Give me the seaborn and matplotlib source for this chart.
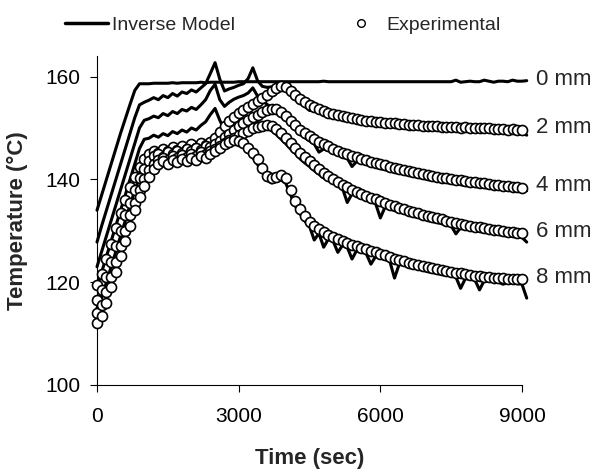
import numpy as np
import pandas as pd
import matplotlib
matplotlib.use("Agg")
import matplotlib.pyplot as plt
import seaborn as sns
from matplotlib.lines import Line2D

# ---------------- data ----------------
t_exp = np.arange(0, 9001, 100)      # experimental sampling times (s)
t_model = np.arange(0, 9101, 100)    # model output times (s)

depth_labels = ["0 mm", "2 mm", "4 mm", "6 mm", "8 mm"]

exp_2mm = [119.5, 121.5, 124.5, 127.5, 130.5, 133.5, 136, 138.5, 140.5, 142.5,
           144, 145, 145.6, 145.2, 146, 145.5, 146.3, 145.8, 146.5, 146,
           146.8, 146.2, 147, 146.6, 147.2, 148, 149.2, 150.3, 151.3, 152.2,
           152.9, 153.5, 154.1, 154.7, 155.3, 155.9, 156.5, 157.1, 157.7, 158.1,
           157.9, 157.2, 156.4, 155.6, 155, 154.5, 154.1, 153.7, 153.3, 153,
           152.8, 152.5, 152.3, 152.1, 151.9, 151.7, 151.5, 151.4, 151.3, 151.2,
           151.1, 151, 150.9, 150.9, 150.8, 150.7, 150.6, 150.5, 150.5, 150.4,
           150.4, 150.3, 150.3, 150.2, 150.2, 150.1, 150.1, 150, 150.1, 150,
           150, 149.9, 149.9, 149.9, 149.8, 149.8, 149.8, 149.7, 149.8, 149.7,
           149.7]
exp_4mm = [116.5, 118.5, 121, 124, 127, 130, 133, 135.5, 138, 140.2,
           142, 143.5, 144.5, 144.9, 144.4, 145.3, 144.9, 145.6, 145.2, 146,
           145.5, 146.2, 145.8, 146.5, 146.3, 146.9, 147.5, 148.2, 148.9, 149.6,
           150.3, 150.9, 151.5, 152.1, 152.6, 153.1, 153.5, 153.7, 153.6, 153.1,
           152.3, 151.4, 150.5, 149.7, 149, 148.4, 147.8, 147.3, 146.8, 146.4,
           146, 145.6, 145.2, 144.9, 144.6, 144.3, 144, 143.7, 143.4, 143.2,
           142.9, 142.7, 142.4, 142.2, 142, 141.8, 141.6, 141.4, 141.2, 141,
           140.8, 140.6, 140.5, 140.3, 140.2, 140, 139.9, 139.8, 139.6, 139.5,
           139.4, 139.3, 139.2, 139.1, 139, 138.9, 138.8, 138.7, 138.6, 138.5,
           138.4]
exp_6mm = [114, 115.5, 118, 121, 124, 127, 130, 133, 135.5, 138,
           140, 141.8, 143, 143.8, 144.2, 143.8, 144.5, 144.2, 144.8, 144.4,
           145, 144.6, 145.3, 145, 145.6, 146, 146.5, 147.1, 147.6, 148.1,
           148.6, 149.1, 149.5, 149.9, 150.2, 150.4, 150.5, 150.3, 149.8, 149,
           148.1, 147.1, 146.1, 145.2, 144.3, 143.5, 142.7, 142, 141.3, 140.7,
           140.1, 139.5, 139, 138.5, 138, 137.6, 137.2, 136.8, 136.4, 136.1,
           135.8, 135.4, 135.1, 134.8, 134.5, 134.2, 133.9, 133.6, 133.4, 133.1,
           132.9, 132.6, 132.4, 132.2, 132, 131.8, 131.6, 131.4, 131.2, 131,
           130.8, 130.7, 130.5, 130.4, 130.2, 130.1, 129.9, 129.8, 129.7, 129.6,
           129.5]
exp_8mm = [112, 113.5, 116, 119, 122, 125, 128, 131, 134, 136.5,
           138.7, 140.5, 142, 143, 143.5, 143, 143.8, 143.3, 144, 143.5,
           144.2, 143.8, 144.5, 144.2, 145, 145.6, 146.2, 146.8, 147.3, 147.6,
           147.5, 147, 146.2, 145.2, 143.9, 142.2, 140.6, 140.2, 140.5, 140.8,
           140.2, 138, 135.8, 134.2, 132.8, 131.8, 131, 130.3, 129.7, 129.2,
           128.8, 128.4, 128, 127.7, 127.3, 127, 126.7, 126.4, 126.1, 125.8,
           125.5, 125.2, 124.9, 124.6, 124.3, 124.1, 123.8, 123.6, 123.4, 123.1,
           122.9, 122.7, 122.5, 122.3, 122.2, 122, 121.8, 121.7, 121.5, 121.4,
           121.3, 121.2, 121.1, 121, 120.9, 120.9, 120.8, 120.7, 120.7, 120.6,
           120.6]

model_0mm = [134, 137, 140, 143, 146, 149, 151.8, 154.6, 157.3, 158.6,
             158.6, 158.6, 158.7, 158.7, 158.7, 158.7, 158.8, 158.7, 158.8, 158.8,
             158.8, 158.8, 158.9, 158.8, 158.9, 158.9, 158.9, 158.9, 158.9, 158.9,
             159, 159, 159, 159, 159, 159, 159, 159, 159, 159,
             159, 159, 159, 159, 159, 159, 159, 159, 159.1, 159,
             159, 159, 159, 159, 159, 159, 159, 159, 159, 159,
             159, 159, 159, 159, 159, 159, 159, 159, 159, 159,
             159, 159, 159, 159, 159, 159, 159.3, 158.9, 159, 159.1,
             159, 159, 159.3, 159.1, 158.9, 159.1, 159.1, 159, 159.3, 159.1,
             159.1, 159.2]
model_2mm = [127.8, 131, 134, 137, 140, 143, 146, 149, 152, 154.5,
             155, 155.4, 155.9, 155.5, 156.3, 155.9, 156.7, 156.2, 157, 156.7,
             157.4, 157, 157.8, 158.6, 160.6, 162.7, 159.5, 157.2, 157.6, 157.9,
             158.3, 158.6, 159.6, 161.7, 159.2, 158.1, 157.9, 158, 157.9, 157.6,
             157.3, 156.5, 155.5, 154.8, 154.2, 153.4, 153.4, 153, 152.6, 152.3,
             152.1, 151.8, 151.6, 151.4, 151.2, 151, 150.9, 150.8, 150.7, 150.6,
             150.5, 150.4, 150.3, 150.3, 150.2, 150.1, 150, 150, 149.9, 149.9,
             149.8, 149.8, 149.7, 149.7, 149.6, 149.6, 149.5, 149.5, 149.5, 149.4,
             149.4, 149.3, 149.3, 149.3, 149.2, 149.2, 149.2, 149.1, 149.1, 149.1,
             149, 148.6]
model_4mm = [123, 126, 129, 132, 135, 138, 141, 144, 147, 150,
             151.5, 151.8, 152.3, 152, 152.8, 152.4, 153.2, 152.8, 153.6, 153.3,
             154, 153.6, 154.5, 155.5, 157.3, 158.5, 155.5, 154.2, 155, 155.6,
             156, 156.3, 156.8, 157.8, 156.2, 155.3, 154.6, 154, 153.2, 152.4,
             151.5, 150.5, 149.6, 148.8, 148.1, 147.5, 146.9, 145.3, 145.9, 145.6,
             145.2, 144.8, 144.4, 144.1, 142.5, 143.5, 143.2, 142.9, 142.6, 142.4,
             142.1, 141.9, 141.6, 141.4, 141.2, 141, 140.8, 140.6, 140.4, 140.2,
             140, 139.8, 139.7, 139.5, 139.4, 139.2, 139.1, 139, 138.8, 138.7,
             138.6, 138.5, 138.4, 138.3, 138.2, 138.1, 138, 137.9, 137.8, 137.7,
             137.6, 137.8]
model_6mm = [119, 122, 125, 128, 131, 134, 137, 140, 143, 146,
             147.8, 148, 148.6, 148.2, 148.9, 148.5, 149.3, 148.9, 149.6, 149.2,
             150, 149.6, 150.5, 151.2, 152.6, 153.8, 151.5, 149.6, 149.9, 150.3,
             150.7, 151, 151.2, 151.4, 151.1, 150.6, 150.1, 149.5, 148.7, 147.8,
             146.9, 145.9, 145, 144, 143.2, 142.5, 141.7, 141, 140.3, 139.8,
             139.3, 138.7, 138.2, 135.5, 137.2, 136.8, 136.4, 136, 135.6, 135.3,
             132.5, 134.6, 134.3, 134, 133.7, 133.4, 133.1, 132.8, 132.6, 132.3,
             132.1, 131.8, 131.6, 131.4, 131.2, 131, 129.4, 130.6, 130.4, 130.2,
             130, 129.9, 129.7, 129.6, 129.4, 129.3, 129.1, 129, 128.9, 128.8,
             128.7, 127.8]
model_8mm = [115, 117, 120, 123, 126, 129, 132, 135, 137.8, 140.3,
             142.3, 143.8, 144.6, 144.2, 145, 144.6, 145.3, 144.9, 145.6, 145.2,
             146, 145.6, 146.4, 146.8, 147.8, 148.6, 147.6, 147.3, 147.6, 147.5,
             147, 146.3, 145.3, 144.2, 142.9, 141.4, 139.8, 139.3, 139.6, 139.9,
             139.2, 137, 134.8, 133.3, 131.9, 130.9, 128.2, 129.5, 126.8, 128.4,
             128, 125.8, 127.2, 126.8, 124.5, 126.2, 125.9, 125.6, 123.5, 125,
             124.7, 124.4, 124.1, 120.8, 123.5, 123.3, 123, 122.8, 122.6, 122.3,
             122.1, 121.9, 121.7, 121.5, 121.4, 121.2, 121, 118.8, 120.7, 120.6,
             120.5, 118.5, 120.3, 120.2, 120.1, 120, 119.6, 119.9, 119.8, 119.7,
             119.6, 116.9]

model_series = [model_0mm, model_2mm, model_4mm, model_6mm, model_8mm]
exp_series = [exp_2mm, exp_4mm, exp_6mm, exp_8mm]

# ---------------- tables ----------------
df_model = pd.concat(
    [pd.DataFrame({"t": t_model, "T": vals, "depth": lab})
     for lab, vals in zip(depth_labels, model_series)],
    ignore_index=True)
df_exp = pd.concat(
    [pd.DataFrame({"t": t_exp, "T": vals, "depth": lab})
     for lab, vals in zip(depth_labels[1:], exp_series)],
    ignore_index=True)

# ---------------- figure ----------------
sns.set_style("ticks")
plt.rcParams["font.family"] = ["Liberation Sans", "DejaVu Sans"]

fig = plt.figure(figsize=(5.97, 4.70), dpi=100)
ax = fig.add_axes([97 / 597, 85 / 470, 425 / 597, 329 / 470])

sns.lineplot(data=df_model, x="t", y="T", units="depth", estimator=None,
             color="black", lw=2.2, sort=False, legend=False, ax=ax)
for ln in ax.lines:
    ln.set_clip_on(False)
    ln.set_zorder(2)

sns.scatterplot(data=df_exp, x="t", y="T", color="white", edgecolor="black",
                linewidth=1.2, s=52, legend=False, ax=ax, zorder=3,
                clip_on=False)

ax.set_xlim(0, 9000)
ax.set_ylim(100, 164)
ax.set_xticks([0, 3000, 6000, 9000])
ax.set_yticks([100, 120, 140, 160])
sns.despine(ax=ax)
for sp in ("left", "bottom"):
    ax.spines[sp].set_linewidth(0.8)
    ax.spines[sp].set_color("black")
ax.tick_params(axis="both", direction="out", length=5, width=0.8,
               color="black", labelsize=15, labelcolor="black")
ax.tick_params(axis="y", pad=7)
ax.tick_params(axis="x", pad=11)

ax.set_xlabel("Time (sec)", fontsize=16, fontweight="bold")
ax.xaxis.set_label_coords(0.5, -0.19)
ax.set_ylabel("Temperature (°C)", fontsize=16, fontweight="bold")
ax.yaxis.set_label_coords(-0.163, 0.5)

# depth labels at line ends
end_vals = [model_0mm[-2]] + [s[-1] for s in exp_series]
for lab, yv in zip(depth_labels, end_vals):
    ax.annotate(lab, xy=(9000, yv), xytext=(10, 1.5), textcoords="offset points",
                fontsize=16, ha="left", va="center", annotation_clip=False)

handles = [Line2D([], [], color="black", lw=2.5),
           Line2D([], [], marker="o", ls="none", mfc="white", mec="black",
                  ms=5.5, mew=1.0)]
fig.legend(handles, ["Inverse Model", "Experimental"], loc="center left",
           bbox_to_anchor=(65 / 597, 1 - 25 / 470), ncol=2, frameon=False,
           fontsize=14, handlelength=2.2, handletextpad=0.2, columnspacing=5.4,
           borderpad=0, borderaxespad=0)

fig.savefig("out.png", dpi=100)
